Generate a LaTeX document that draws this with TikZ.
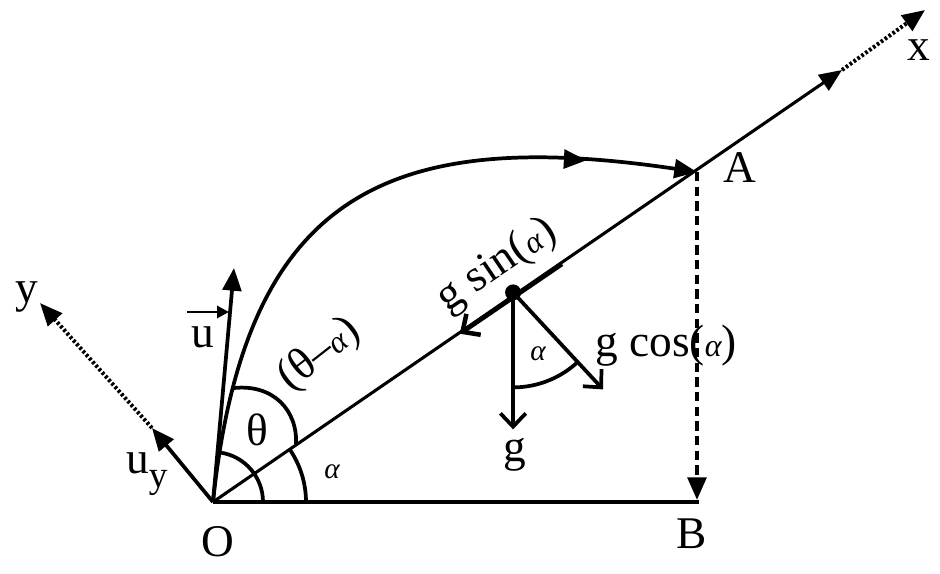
\documentclass[tikz,border=0pt]{standalone}
\usepackage{fontspec}
\setmainfont{Liberation Serif}
\usetikzlibrary{arrows.meta,decorations.markings,calc}
\begin{document}
\begin{tikzpicture}[x=0.75pt,y=-0.75pt,
  ln/.style={line width=2.8pt},
  incl/.style={line width=2.3pt},
  bigtip/.style={-{Triangle[length=17pt,width=14pt]}},
  barb/.style={-{Straight Barb[length=10pt,width=19pt]}},
  dotline/.style={line width=3pt, dash pattern=on 2pt off 1.6pt},
  dashline/.style={line width=3pt, dash pattern=on 7pt off 4pt},
  lbl/.style={font=\fontsize{34}{38}\selectfont, inner sep=0pt},
  sm/.style={font=\fontsize{22}{24}\selectfont\itshape, inner sep=0pt}
]
\useasboundingbox (0,0) rectangle (940,574);
\fill[white] (0,0) rectangle (940,574);

% points
\coordinate (O) at (213,502);
\coordinate (B) at (699,502);
\coordinate (Bt) at (697,500);
\coordinate (A) at (697,172);
\coordinate (X1) at (842,70);
\coordinate (X2) at (925,10);
\coordinate (U) at (234,268);
\coordinate (UY) at (152,428);
\coordinate (Y) at (40,303);

% ground and incline
\draw[ln] (O) -- (B);
\draw[incl, bigtip] (O) -- (X1);
\draw[dotline, bigtip] (X1) -- (X2);

% velocity and y axis
\draw[ln, bigtip] (O) -- (U);
\draw[ln, bigtip] (O) -- (UY);
\draw[dotline, bigtip] (UY) -- (Y);

% vertical dashed
\draw[dashline, bigtip] (A) -- (Bt);

% trajectory
\draw[ln, bigtip, postaction={decorate},
  decoration={markings, mark=at position 0.84 with {\arrow{Triangle[length=17pt,width=14pt]}}}]
  (O) .. controls (245,200) and (380,125) .. (A);

% angle arcs at O
\draw[ln] ($(O)+(50,0)$) arc[start angle=0,end angle=-82,radius=50];
\draw[ln] ($(O)+(93,0)$) arc[start angle=0,end angle=-34,radius=93];
\draw[ln] (234,388) .. controls (273,384) and (298,410) .. (296,445);

% force decomposition
\coordinate (P) at ($(O)!0.62!(A)+(0,-5)$);
\coordinate (S1) at ($(O)!0.721!(A)$);
\coordinate (S2) at ($(O)!0.51!(A)$);
\coordinate (G) at ($(P)+(0,137)$);
\coordinate (GC) at ($(P)+(90,97)$);
\draw[line width=3.4pt, barb] (S1) -- (S2);
\draw[ln, barb] (P) -- (G);
\draw[ln, barb] (P) -- (GC);
\draw[ln] ($(P)+(0,95)$) arc[start angle=90,end angle=47,radius=95];
\fill (P) circle[radius=8];

% labels
\node[lbl] (ly) at (27,297) {y};
\node[lbl, anchor=base west] (luy) at (126,473) {u\raisebox{-10.5pt}{\fontsize{28}{30}\selectfont y}};
\node[lbl] (lu) at (203,337) {u};
\draw[line width=2.2pt, -{Triangle[length=9pt,width=9pt]}] (187,312) -- (229,312);
\node[lbl] (lth) at (257,430) {θ};
\node[lbl, rotate=38] (lta) at (320,355) {(θ–{\fontsize{24}{26}\selectfont\itshape α})};
\node[sm] (la1) at (332,472) {α};
\node[lbl] (lO) at (218,542) {O};
\node[lbl] (lB) at (692,534) {B};
\node[lbl] (lA) at (740,168) {A};
\node[lbl] (lx) at (919,50) {x};
\node[lbl, rotate=34] (lgs) at (497,266) {g sin({\fontsize{24}{26}\selectfont\itshape α})};
\node[lbl] (lg) at (515,455) {g};
\node[sm] (la2) at (538,354) {α};
\node[lbl, anchor=base west] (lgc) at (595,357) {g cos({\fontsize{24}{26}\selectfont\itshape α})};
\end{tikzpicture}
\end{document}
